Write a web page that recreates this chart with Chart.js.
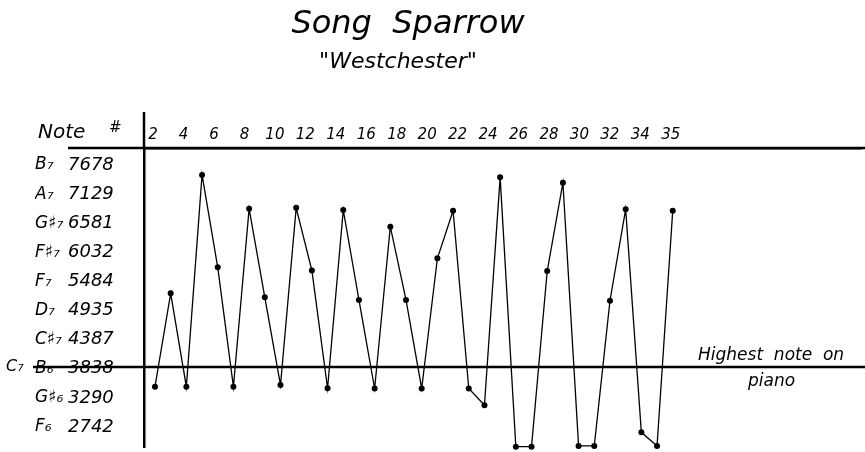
<!DOCTYPE html>
<html>
<head>
<meta charset="utf-8">
<script src="https://cdn.jsdelivr.net/npm/chart.js@4"></script>
<style>
  body { margin: 0; background: #fff; }
</style>
</head>
<body>
<canvas id="songChart" width="865" height="452"></canvas>
<script>
// note number along the song, and the frequency read for each note (Hz)
const noteNumbers = [2, 3, 4, 5, 6, 7, 8, 9, 10, 11, 12, 13, 14, 15, 16, 17, 18,
    19, 20, 21, 22, 23, 24, 25, 26, 27, 28, 29, 30, 31, 32, 33, 34, 35];
const frequencies = [3500, 5260, 3500, 7490, 5750, 3500, 6855, 5185, 3530, 6870,
    5690, 3470, 6830, 5135, 3465, 6515, 5135, 3465, 5920, 6815, 3465, 3150,
    7445, 2370, 2370, 5680, 7345, 2385, 2385, 5120, 6845, 2640, 2385, 6815];

// axis labels (the note numbers along the top are hand spaced evenly)
const xTicks = [2, 4, 6, 8, 10, 12, 14, 16, 18, 20, 22, 24, 26, 28, 30, 32, 34, 35];
const freqTicks = [7678, 7129, 6581, 6032, 5484, 4935, 4387, 3838, 3290, 2742];
const noteNames = ['B₇', 'A₇', 'G♯₇', 'F♯₇', 'F₇', 'D₇', 'C♯₇', 'B₆', 'G♯₆', 'F₆'];

// highest note on the piano (C7), as drawn
const pianoTopHz = 3870;

const hand = 'DejaVu Sans';

const decor = {
    id: 'decor',
    afterDraw(chart) {
        const ctx = chart.ctx;
        const area = chart.chartArea;
        const y = chart.scales.y;
        ctx.save();
        ctx.fillStyle = '#000';
        ctx.strokeStyle = '#000';

        // titles
        ctx.textAlign = 'center';
        ctx.textBaseline = 'middle';
        ctx.font = 'italic 32px "' + hand + '"';
        ctx.fillText('Song  Sparrow', 408, 25);
        ctx.font = 'italic 22px "' + hand + '"';
        ctx.fillText('"Westchester"', 398, 62);

        // "Note #" header
        ctx.textAlign = 'left';
        ctx.font = 'italic 20px "' + hand + '"';
        ctx.fillText('Note', 38, 133);
        ctx.font = 'italic 15px "' + hand + '"';
        ctx.fillText('#', 109, 128);

        // axis lines carried past the plot area
        ctx.lineWidth = 2.5;
        ctx.beginPath();
        ctx.moveTo(68, area.top);
        ctx.lineTo(chart.width, area.top);
        ctx.moveTo(area.left, 112);
        ctx.lineTo(area.left, area.top);
        ctx.stroke();

        // highest note on piano
        const py = y.getPixelForValue(pianoTopHz);
        ctx.beginPath();
        ctx.moveTo(33, py);
        ctx.lineTo(chart.width, py);
        ctx.stroke();
        ctx.font = 'italic 16px "' + hand + '"';
        ctx.fillText('C₇', 6, py);
        ctx.font = 'italic 17px "' + hand + '"';
        ctx.fillText('Highest  note  on', 698, py - 11);
        ctx.fillText('piano', 748, py + 15);
        ctx.restore();
    }
};

function noEndPadding(scale) {
    scale.paddingTop = 0;
    scale.paddingBottom = 0;
}

const points = noteNumbers.map((n, i) => ({ x: n, y: frequencies[i] }));

const ctx = document.getElementById('songChart').getContext('2d');
const songChart = new Chart(ctx, {
    type: 'line',
    data: {
        datasets: [{
            label: 'Song Sparrow',
            data: points,
            borderColor: '#000',
            backgroundColor: '#000',
            borderWidth: 1.3,
            pointRadius: 3,
            pointBorderWidth: 0,
            pointBackgroundColor: '#000',
            tension: 0,
            clip: false
        }]
    },
    options: {
        responsive: false,
        animation: false,
        devicePixelRatio: 1,
        layout: {
            padding: { left: 35, top: 108, right: 2, bottom: 5 }
        },
        plugins: {
            legend: { display: false },
            title: { display: false },
            tooltip: { enabled: false }
        },
        scales: {
            x: {
                type: 'linear',
                display: false,
                min: 1.3,
                max: 47
            },
            xLabel: {
                type: 'linear',
                position: 'top',
                min: -0.3,
                max: 23.25,
                afterBuildTicks: function(axis) {
                    axis.ticks = xTicks.map((v, i) => ({ value: i }));
                },
                afterFit: function(scale) {
                    scale.height = 40;
                },
                grid: { display: false, drawTicks: false },
                border: { display: true, color: '#000', width: 2.5 },
                ticks: {
                    autoSkip: false,
                    maxRotation: 0,
                    padding: 4,
                    color: '#000',
                    callback: (v, i) => String(xTicks[i]),
                    font: { family: hand, style: 'italic', size: 15 }
                }
            },
            y: {
                type: 'linear',
                position: 'left',
                weight: 0,
                min: 2364,
                max: 7998,
                afterBuildTicks: function(axis) {
                    axis.ticks = freqTicks.map(v => ({ value: v }));
                },
                afterFit: function(scale) {
                    scale.width = 76;
                    noEndPadding(scale);
                },
                grid: { display: false, drawTicks: false },
                border: { display: true, color: '#000', width: 2.5 },
                ticks: {
                    crossAlign: 'far',
                    color: '#000',
                    callback: v => String(v),
                    font: { family: hand, style: 'italic', size: 18 }
                }
            },
            yNote: {
                type: 'linear',
                position: 'left',
                weight: 10,
                min: 2364,
                max: 7998,
                afterBuildTicks: function(axis) {
                    axis.ticks = freqTicks.map(v => ({ value: v }));
                },
                afterFit: function(scale) {
                    scale.width = 33;
                    noEndPadding(scale);
                },
                grid: { display: false, drawTicks: false },
                border: { display: false },
                ticks: {
                    crossAlign: 'far',
                    color: '#000',
                    callback: v => noteNames[freqTicks.indexOf(v)],
                    font: { family: hand, style: 'italic', size: 17 }
                }
            }
        }
    },
    plugins: [decor]
});
</script>
</body>
</html>
